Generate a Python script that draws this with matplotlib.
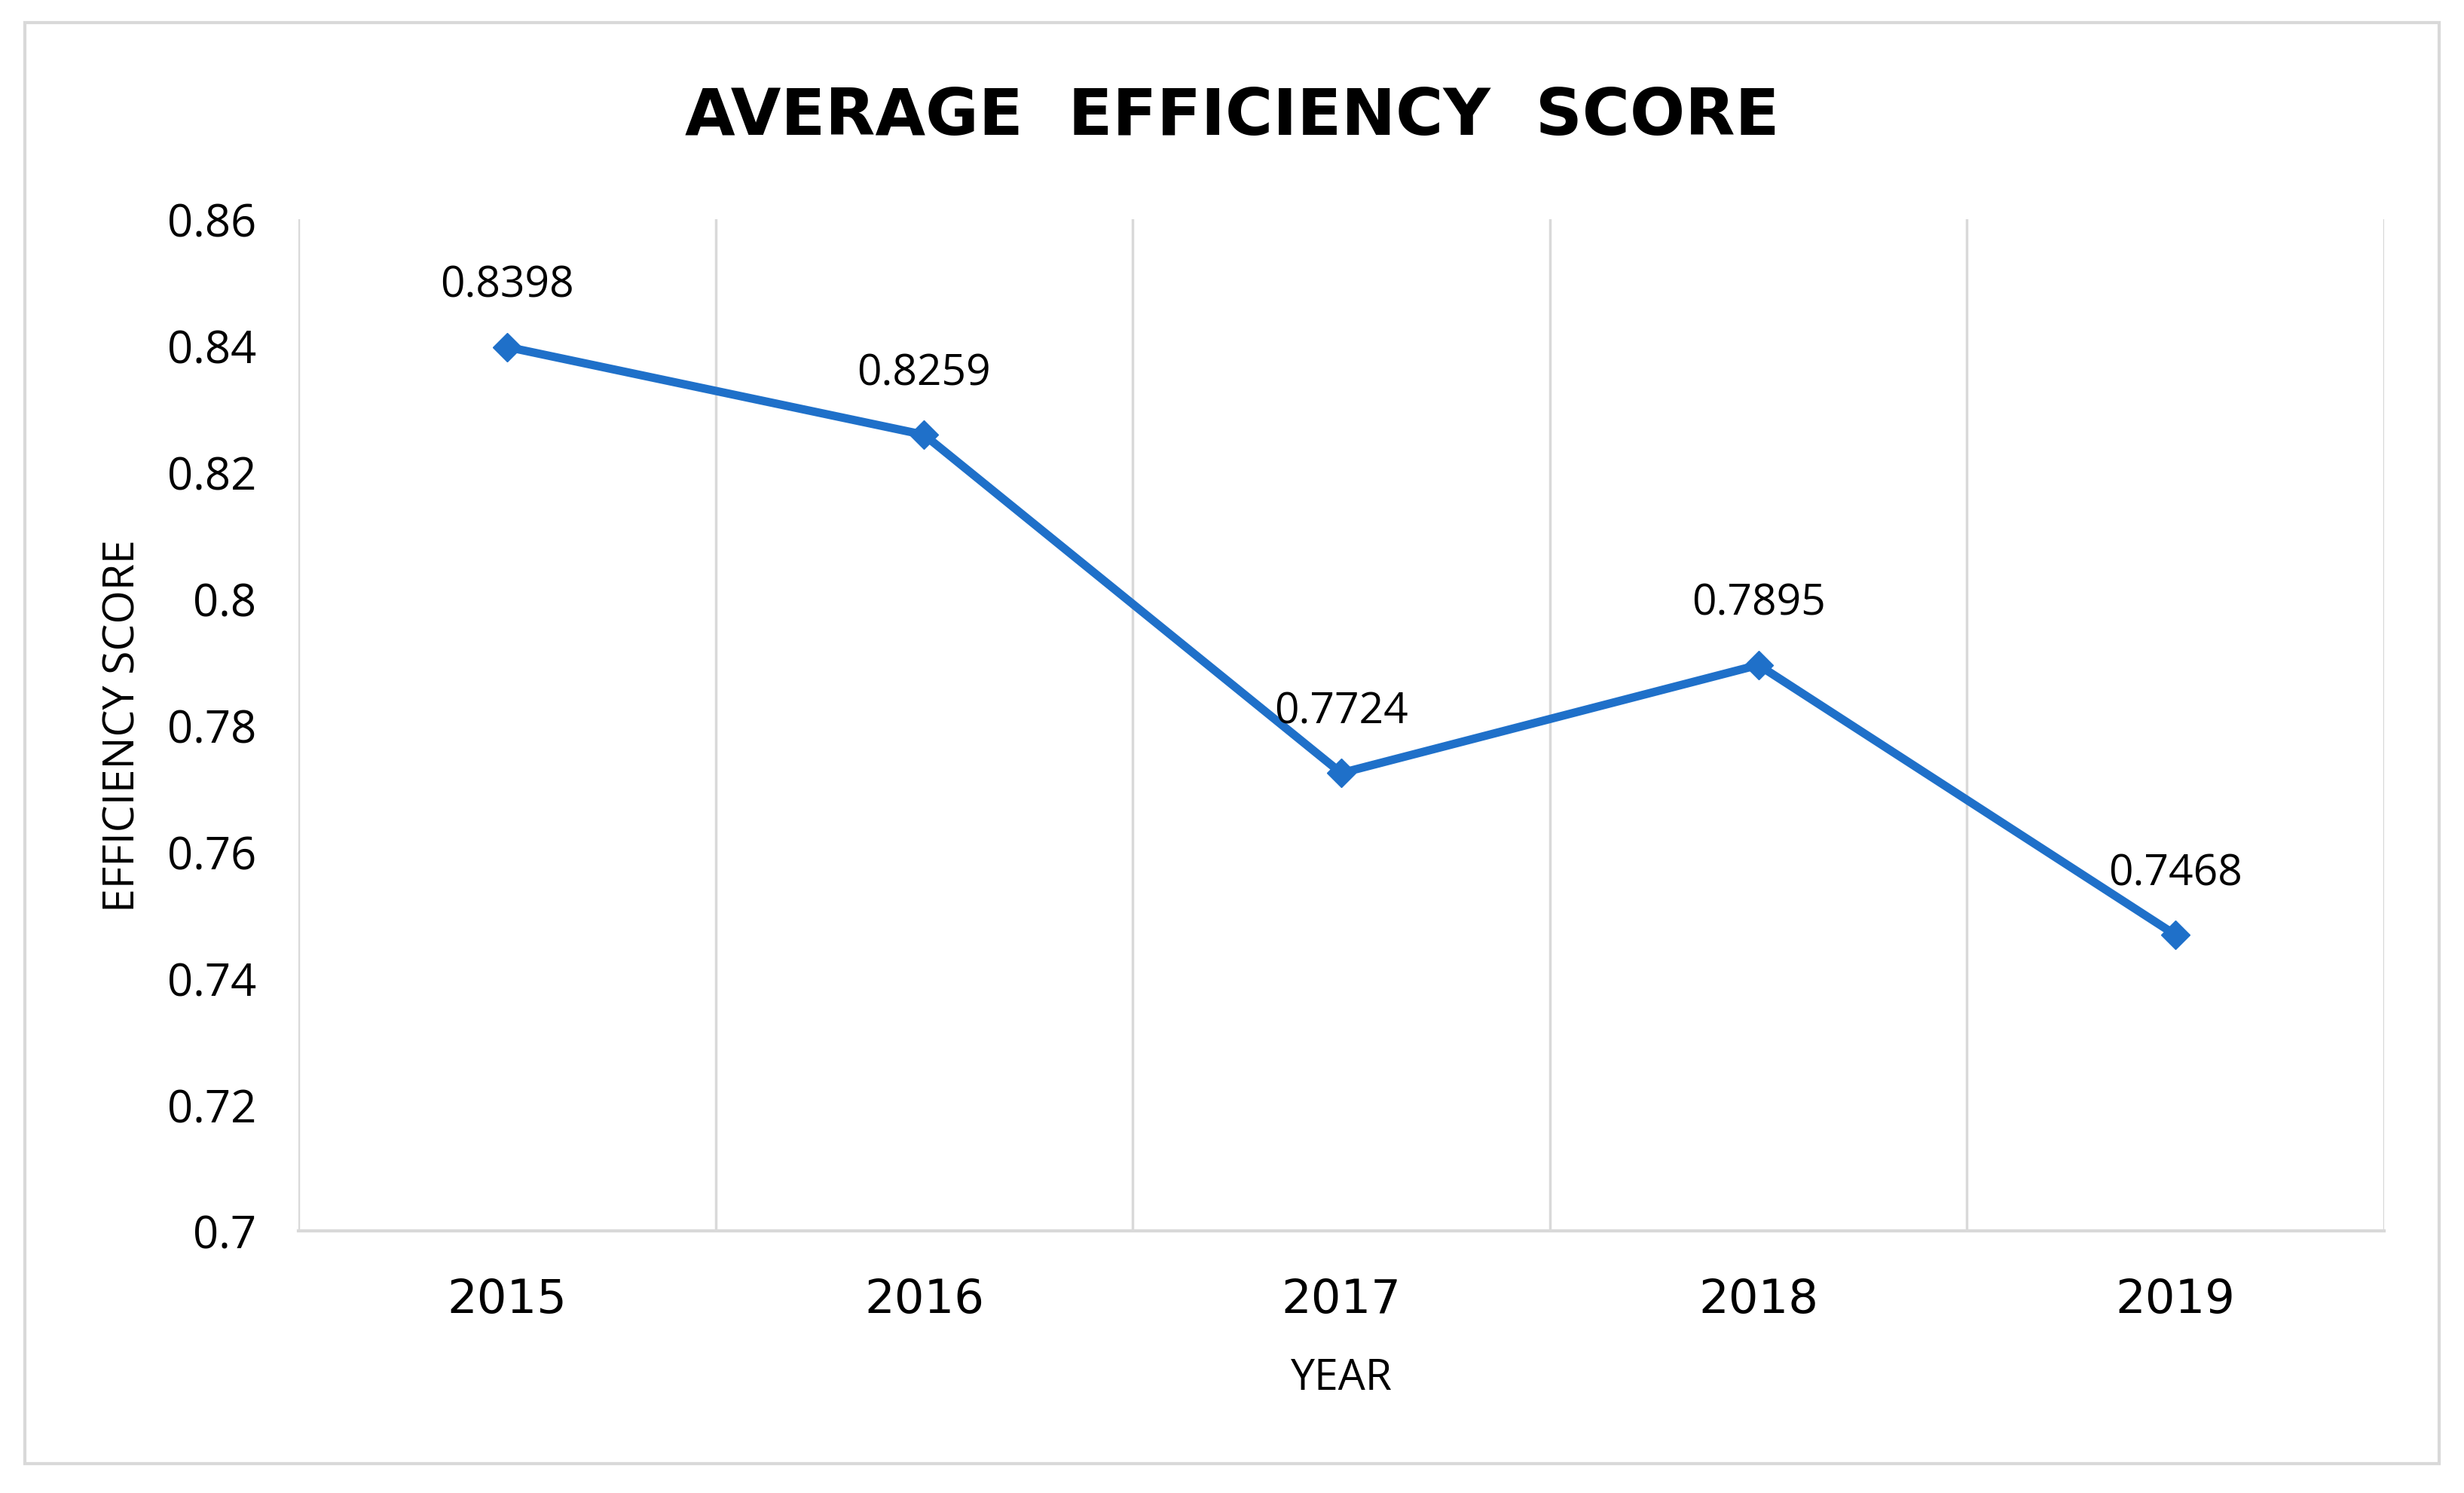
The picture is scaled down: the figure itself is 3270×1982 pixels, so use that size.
import matplotlib
matplotlib.use("Agg")
import matplotlib.pyplot as plt
from matplotlib.patches import Rectangle

# data
years = ["2015", "2016", "2017", "2018", "2019"]
scores = [0.8398, 0.8259, 0.7724, 0.7895, 0.7468]
score_labels = ["0.8398", "0.8259", "0.7724", "0.7895", "0.7468"]
y_ticks = [0.7, 0.72, 0.74, 0.76, 0.78, 0.8, 0.82, 0.84, 0.86]
y_tick_labels = ["0.7", "0.72", "0.74", "0.76", "0.78", "0.8", "0.82", "0.84", "0.86"]

plt.rcParams["font.family"] = ["Open Sans", "DejaVu Sans"]

W, H = 3270, 1983
fig = plt.figure(figsize=(W / 100, H / 100), dpi=100)
ax = fig.add_axes([396 / W, 1 - 1635 / H, (3164 - 396) / W, (1635 - 292) / H])

x = list(range(len(years)))
ax.plot(x, scores, color="#1f70c9", lw=8, marker="D", markersize=19, zorder=3)

for xi, v, lab in zip(x, scores, score_labels):
    ax.annotate(lab, (xi, v), xytext=(0, 38), textcoords="offset points",
                ha="center", va="bottom", fontsize=41, color="#000000")

ax.set_xlim(-0.5, len(years) - 0.5)
ax.set_ylim(0.7, 0.86)
ax.set_yticks(y_ticks)
ax.set_yticklabels(y_tick_labels, fontsize=43)
ax.set_xticks(x)
ax.set_xticklabels(years, fontsize=45, family="DejaVu Sans")
ax.tick_params(axis="both", length=0, colors="#000000")
ax.tick_params(axis="y", pad=40)
ax.tick_params(axis="x", pad=44)

# vertical separators between categories
for b in [i + 0.5 for i in range(-1, len(years))]:
    ax.axvline(b, color="#d9d9d9", lw=2.5, zorder=1)

for s in ["top", "right", "left"]:
    ax.spines[s].set_visible(False)
ax.spines["bottom"].set_color("#d9d9d9")
ax.spines["bottom"].set_linewidth(3)

ax.set_xlabel("YEAR", fontsize=41, labelpad=33)
ax.set_ylabel("EFFICIENCY SCORE", fontsize=41, labelpad=21)

fig.text(0.5, 1 - 156 / H, "AVERAGE  EFFICIENCY  SCORE", ha="center", va="center",
         fontsize=62, fontweight="bold", family="DejaVu Sans")

# chart area border
fig.patches.append(Rectangle((33 / W, 1 - 1944 / H), (3237 - 33) / W, (1944 - 31) / H,
                             transform=fig.transFigure, fill=False,
                             edgecolor="#d9d9d9", lw=3))

fig.savefig("out.png", dpi=100, facecolor="white")
